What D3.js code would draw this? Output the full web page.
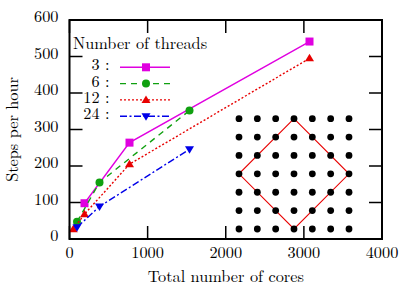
<!DOCTYPE html>
<html>
<head>
<meta charset="utf-8">
<script src="https://cdn.jsdelivr.net/npm/d3@7"></script>
<style>
  body { margin: 0; background: #fff; }
</style>
</head>
<body>
<div id="chart"></div>
<script>
// Data
const threadLabels = ['3', '6', '12', '24'];
const cores3 = [192, 768, 3072];
const steps3 = [98, 264, 541];
const cores6 = [96, 384, 1536];
const steps6 = [47, 155, 352];
const cores12 = [48, 192, 768, 3072];
const steps12 = [27, 68, 205, 495];
const cores24 = [96, 384, 1536];
const steps24 = [32, 89, 246];

const xTicks = [0, 1000, 2000, 3000, 4000];
const yTicks = [0, 100, 200, 300, 400, 500, 600];

// inset grid (7 x 7 nodes) and the diamond drawn over it
const gridIdx = [0, 1, 2, 3, 4, 5, 6];
const diamondCol = [3, 6, 3, 0, 3];
const diamondRow = [0, 3, 6, 3, 0];

const width = 413, height = 294;
const margin = { top: 20, right: 31, bottom: 55, left: 69.5 };
const serif = "'Latin Modern Roman', 'Liberation Serif', serif";
const fs = 16.3;

const series = [
  { cores: cores3, steps: steps3, color: '#e000e0', dash: null, marker: 'square' },
  { cores: cores6, steps: steps6, color: '#10a010', dash: '6,5', marker: 'circle' },
  { cores: cores12, steps: steps12, color: '#e80000', dash: '2,2', marker: 'triangle' },
  { cores: cores24, steps: steps24, color: '#0000e8', dash: '7,2.5,2,2.5', marker: 'down' }
];

const svg = d3.select('#chart').append('svg')
  .attr('width', width)
  .attr('height', height)
  .style('font-family', serif);

const x = d3.scaleLinear().domain([0, 4000]).range([margin.left, width - margin.right]);
const y = d3.scaleLinear().domain([0, 600]).range([height - margin.bottom, margin.top]);

const x0 = x.range()[0], x1 = x.range()[1];
const y0 = y.range()[0], y1 = y.range()[1];
const tickLen = 13;

// ticks (inward, mirrored on all sides)
const ticks = svg.append('g').attr('stroke', '#000').attr('stroke-width', 1.5);
xTicks.forEach(t => {
  ticks.append('line').attr('x1', x(t)).attr('x2', x(t)).attr('y1', y0).attr('y2', y0 - tickLen);
  ticks.append('line').attr('x1', x(t)).attr('x2', x(t)).attr('y1', y1).attr('y2', y1 + tickLen);
});
yTicks.forEach(t => {
  ticks.append('line').attr('x1', x0).attr('x2', x0 + tickLen).attr('y1', y(t)).attr('y2', y(t));
  ticks.append('line').attr('x1', x1).attr('x2', x1 - tickLen).attr('y1', y(t)).attr('y2', y(t));
});

// tick labels
svg.append('g').selectAll('text').data(xTicks).join('text')
  .attr('x', d => x(d)).attr('y', y0 + 19)
  .attr('text-anchor', 'middle').attr('font-size', fs)
  .text(d => d);
svg.append('g').selectAll('text').data(yTicks).join('text')
  .attr('x', x0 - 11).attr('y', d => y(d) + 2)
  .attr('text-anchor', 'end').attr('font-size', fs)
  .text(d => d);

// axis titles
svg.append('text')
  .attr('x', (x0 + x1) / 2).attr('y', 281.5)
  .attr('text-anchor', 'middle').attr('font-size', fs)
  .text('Total number of cores');
svg.append('text')
  .attr('transform', `translate(18,${(y0 + y1) / 2}) rotate(-90)`)
  .attr('text-anchor', 'middle').attr('font-size', fs)
  .text('Steps per hour');

// inset: grid of nodes with a diamond
const gx = d3.scaleLinear().domain([0, 6]).range([239, 349]);
const gy = d3.scaleLinear().domain([0, 6]).range([118.7, 229]);
const diamond = d3.line().x(d => gx(d[0])).y(d => gy(d[1]));
svg.append('path')
  .attr('d', diamond(d3.zip(diamondCol, diamondRow)))
  .attr('fill', 'none').attr('stroke', '#e80000').attr('stroke-width', 1.1);
const dots = svg.append('g');
gridIdx.forEach(r => {
  gridIdx.forEach(c => {
    dots.append('circle').attr('cx', gx(c)).attr('cy', gy(r)).attr('r', 3.4).attr('fill', '#000');
  });
});

// marker drawing
function drawMarker(g, type, cx, cy, color) {
  if (type === 'square') {
    g.append('rect').attr('x', cx - 4).attr('y', cy - 4).attr('width', 8).attr('height', 8).attr('fill', color);
  } else if (type === 'circle') {
    g.append('circle').attr('cx', cx).attr('cy', cy).attr('r', 4).attr('fill', color);
  } else if (type === 'triangle') {
    g.append('path').attr('d', `M${cx},${cy - 4.5}L${cx + 4.5},${cy + 3}L${cx - 4.5},${cy + 3}Z`).attr('fill', color);
  } else {
    g.append('path').attr('d', `M${cx},${cy + 4.5}L${cx + 4.5},${cy - 3}L${cx - 4.5},${cy - 3}Z`).attr('fill', color);
  }
}

// series
const line = d3.line().x(d => x(d[0])).y(d => y(d[1]));
const plot = svg.append('g');
series.forEach(s => {
  const pts = d3.zip(s.cores, s.steps);
  plot.append('path')
    .attr('d', line(pts))
    .attr('fill', 'none')
    .attr('stroke', s.color)
    .attr('stroke-width', 1.4)
    .attr('stroke-dasharray', s.dash);
  pts.forEach(p => drawMarker(plot, s.marker, x(p[0]), y(p[1]), s.color));
});

// legend
const legend = svg.append('g');
legend.append('text').attr('x', 73).attr('y', 48.7).attr('font-size', fs).text('Number of threads');
series.forEach((s, i) => {
  const ry = 67.3 + i * 16.3;
  legend.append('text')
    .attr('x', 109.5).attr('y', ry + 3).attr('text-anchor', 'end').attr('font-size', fs)
    .text(threadLabels[i] + ' :');
  legend.append('line')
    .attr('x1', 120).attr('x2', 170).attr('y1', ry).attr('y2', ry)
    .attr('stroke', s.color).attr('stroke-width', 1.4)
    .attr('stroke-dasharray', s.dash);
  drawMarker(legend, s.marker, 146, ry, s.color);
});

// frame
svg.append('rect')
  .attr('x', x0).attr('y', y1).attr('width', x1 - x0).attr('height', y0 - y1)
  .attr('fill', 'none').attr('stroke', '#000').attr('stroke-width', 2);
</script>
</body>
</html>
